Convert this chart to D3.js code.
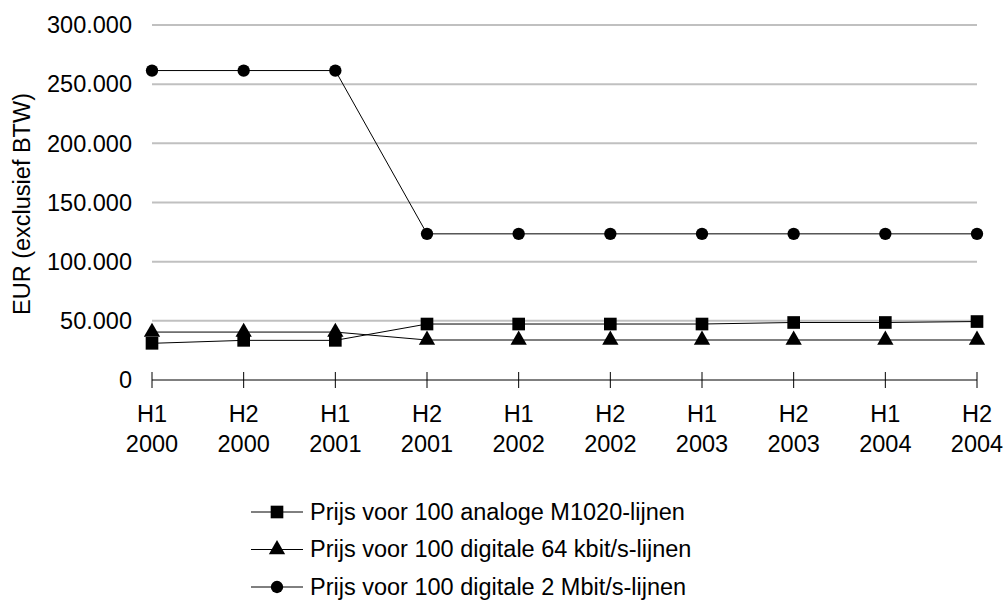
<!DOCTYPE html>
<html>
<head>
<meta charset="utf-8">
<script src="https://cdn.jsdelivr.net/npm/d3@7"></script>
<style>
  body { margin: 0; background: #fff; }
  text { font-family: "Liberation Sans", Arial, sans-serif; fill: #000; }
</style>
</head>
<body>
<div id="chart-area"></div>
<script>
// Data
var periods = ["H1 2000", "H2 2000", "H1 2001", "H2 2001", "H1 2002",
               "H2 2002", "H1 2003", "H2 2003", "H1 2004", "H2 2004"];
var analoog = [31000, 33500, 33500, 47300, 47300, 47300, 47300, 48600, 48600, 49400];
var digitaal64 = [40500, 40500, 40500, 33800, 33800, 33800, 33800, 33800, 33800, 33800];
var digitaal2M = [261500, 261500, 261500, 123500, 123500, 123500, 123500, 123500, 123500, 123500];
var seriesNames = ["Prijs voor 100 analoge M1020-lijnen",
                   "Prijs voor 100 digitale 64 kbit/s-lijnen",
                   "Prijs voor 100 digitale 2 Mbit/s-lijnen"];
var yTicks = [0, 50000, 100000, 150000, 200000, 250000, 300000];

var series = [
    { name: seriesNames[0], values: analoog, symbol: d3.symbolSquare, size: 160 },
    { name: seriesNames[1], values: digitaal64, symbol: d3.symbolTriangle, size: 115 },
    { name: seriesNames[2], values: digitaal2M, symbol: d3.symbolCircle, size: 120 }
];

var W = 1004, H = 601;
var margin = { left: 152, right: 27, top: 25, bottom: 221 };
var width = W - margin.left - margin.right,
    height = H - margin.top - margin.bottom;
var fontSize = "23.5px";

var svg = d3.select("#chart-area").append("svg")
    .attr("width", W)
    .attr("height", H);
var g = svg.append("g")
    .attr("transform", "translate(" + margin.left + "," + margin.top + ")");

// Scales
var x = d3.scalePoint().domain(periods).range([0, width]);
var y = d3.scaleLinear().domain([0, 300000]).range([height, 0]);

var fmt = function(d) { return d === 0 ? "0" : d3.format(",")(d).replace(/,/g, "."); };

// Gridlines
g.selectAll(".grid").data(yTicks.filter(function(d){ return d > 0; }))
    .enter().append("line")
    .attr("class", "grid")
    .attr("x1", 0).attr("x2", width)
    .attr("y1", function(d){ return y(d); })
    .attr("y2", function(d){ return y(d); })
    .attr("stroke", "#c0c0c0")
    .attr("stroke-width", 2);

// Y labels
g.selectAll(".ylab").data(yTicks)
    .enter().append("text")
    .attr("class", "ylab")
    .attr("x", -20)
    .attr("y", function(d){ return y(d); })
    .attr("dy", "0.35em")
    .attr("text-anchor", "end")
    .attr("font-size", fontSize)
    .text(fmt);

// Y title
g.append("text")
    .attr("transform", "rotate(-90)")
    .attr("x", -(204 - margin.top))
    .attr("y", -122)
    .attr("text-anchor", "middle")
    .attr("font-size", fontSize)
    .text("EUR (exclusief BTW)");

// X axis
var xAxis = g.append("g").attr("transform", "translate(0," + height + ")");
xAxis.append("line")
    .attr("x1", 0).attr("x2", width)
    .attr("stroke", "#000");
xAxis.selectAll(".tick").data(periods)
    .enter().append("line")
    .attr("x1", function(d){ return x(d); })
    .attr("x2", function(d){ return x(d); })
    .attr("y1", -8).attr("y2", 8)
    .attr("stroke", "#000");
var xl = xAxis.selectAll(".xlab").data(periods)
    .enter().append("text")
    .attr("text-anchor", "middle")
    .attr("font-size", fontSize);
xl.append("tspan")
    .attr("x", function(d){ return x(d); })
    .attr("y", 42)
    .text(function(d){ return d.split(" ")[0]; });
xl.append("tspan")
    .attr("x", function(d){ return x(d); })
    .attr("y", 72)
    .text(function(d){ return d.split(" ")[1]; });

// Lines and markers
var line = d3.line()
    .x(function(d, i){ return x(periods[i]); })
    .y(function(d){ return y(d); });

series.forEach(function(s){
    g.append("path")
        .datum(s.values)
        .attr("fill", "none")
        .attr("stroke", "#000")
        .attr("stroke-width", 1)
        .attr("d", line);
    g.selectAll(null).data(s.values)
        .enter().append("path")
        .attr("transform", function(d, i){
            return "translate(" + x(periods[i]) + "," + y(d) + ")";
        })
        .attr("d", d3.symbol().type(s.symbol).size(s.size))
        .attr("fill", "#000");
});

// Legend
var legend = svg.append("g").attr("transform", "translate(251,512)");
series.forEach(function(s, i){
    var row = legend.append("g").attr("transform", "translate(0," + (i * 37.5) + ")");
    row.append("line")
        .attr("x1", 0).attr("x2", 52)
        .attr("stroke", "#000");
    row.append("path")
        .attr("transform", "translate(26,0)")
        .attr("d", d3.symbol().type(s.symbol).size(s.size))
        .attr("fill", "#000");
    row.append("text")
        .attr("x", 59)
        .attr("dy", "0.32em")
        .attr("font-size", fontSize)
        .text(s.name);
});
</script>
</body>
</html>
